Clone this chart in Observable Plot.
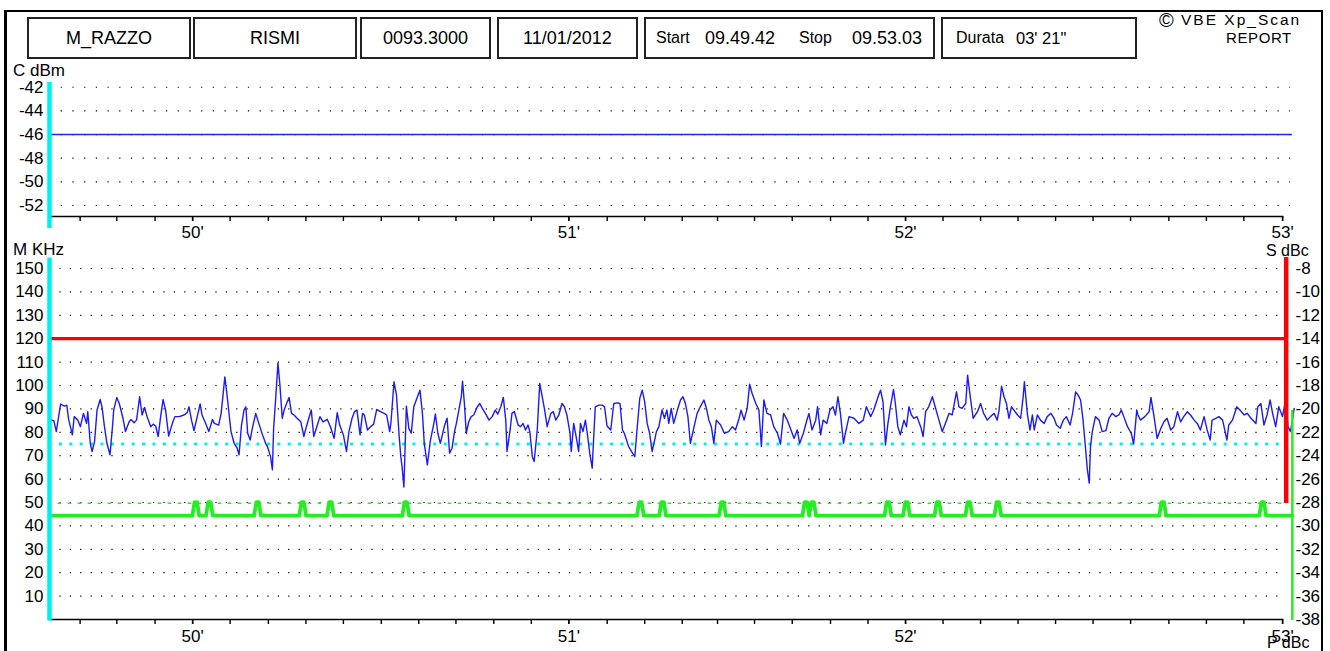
<!DOCTYPE html>
<html>
<head>
<meta charset="utf-8">
<script src="https://cdn.jsdelivr.net/npm/d3@7"></script>
<script src="https://cdn.jsdelivr.net/npm/@observablehq/plot@0.6"></script>
<style>
  html, body { margin: 0; padding: 0; background: #fff; }
  #page { position: relative; width: 1330px; height: 651px; overflow: hidden; background: #fff;
          font-family: "Liberation Sans", Arial, sans-serif; color: #000; }
  #frame { position: absolute; left: 4px; top: 10px; width: 1319px; height: 700px;
           border-top: 2px solid #000; border-left: 3px solid #000; border-right: 2px solid #000; box-sizing: border-box; }
  .box { position: absolute; top: 17px; height: 42px; border: 2px solid #222; box-sizing: border-box;
         font-size: 18px; line-height: 38px; text-align: center; white-space: nowrap; }
  .lbl { position: absolute; font-size: 17px; line-height: 16px; white-space: nowrap; }
  .hdr { position: absolute; font-size: 18px; line-height: 18px; white-space: nowrap; }
  .panel { position: absolute; left: 0; }
</style>
</head>
<body>
<div id="page">
  <div id="frame"></div>
</div>
<script>
// ---------- header data ----------
const headerFields = ["M_RAZZO", "RISMI", "0093.3000", "11/01/2012"];
const startStopTexts = ["Start", "09.49.42", "Stop", "09.53.03"];
const durationTexts = ["Durata", "03' 21\""];
const brandTexts = ["\u00A9", "VBE Xp_Scan", "REPORT"];

// ---------- axis data ----------
const durationSec = 201;                 // 03' 21"
const dbmTicks = [-42, -44, -46, -48, -50, -52];
const khzTicks = [150, 140, 130, 120, 110, 100, 90, 80, 70, 60, 50, 40, 30, 20, 10];
const dbcTickPos = [150, 140, 130, 120, 110, 100, 90, 80, 70, 60, 50, 40, 30, 20, 10, 0];
const dbcLabels = ["-8", "-10", "-12", "-14", "-16", "-18", "-20", "-22", "-24", "-26", "-28", "-30", "-32", "-34", "-36", "-38"];
const minorTicks = [4.96, 10.90, 17.10, 23.18, 29.25, 35.45, 41.53, 47.60, 53.74, 59.81, 65.83, 71.96, 78.04,
  84.11, 90.33, 96.40, 102.48, 108.20, 114.19, 120.30, 126.50, 132.57, 138.65, 144.72, 150.80, 156.87,
  162.95, 169.02, 175.10, 181.30, 187.38, 193.45, 199.72];
const minuteTicks = [23.18, 84.11, 138.65, 199.72];
const minuteLabels = ["50'", "51'", "52'", "53'"];

// ---------- series ----------
const carrierDbm = -46;
const redLimitKHz = 120;
const cyanLimitKHz = 75;
const greenLimitKHz = 49.7;
const greenBaseKHz = 44.4;
const greenPeakKHz = 50.2;
const alarmTimes = [23.7, 25.9, 33.7, 41.0, 45.5, 57.7, 95.7, 99.3, 109.0, 122.5, 123.6, 135.8, 138.8, 143.9, 148.9, 153.6, 180.3, 196.5];
const redBar = {t: 200.3, from: 49.6, to: 154.7};
const greenBar = {t: 201.3, from: -0.4, to: 89.3};

// deviation trace [seconds from start, KHz]
const deviation = [
[0.0,85.5],[0.7,85.0],[1.1,80.3],[1.8,92.1],[2.4,91.2],[2.8,91.6],[3.1,85.5],[3.7,78.9],[4.0,86.7],[4.6,85.2],
[5.0,82.4],[5.5,88.1],[6.0,83.8],[6.2,88.8],[6.6,75.3],[6.9,71.8],[7.3,76.0],[7.7,89.5],[8.2,94.0],[8.5,90.9],
[8.9,82.4],[9.3,75.3],[9.8,70.4],[10.2,82.4],[10.4,89.5],[10.9,94.9],[11.3,92.3],[11.9,86.0],[12.3,80.3],[12.9,84.5],
[13.2,85.5],[13.7,84.1],[14.1,85.2],[14.6,95.2],[15.0,87.4],[15.4,90.6],[15.8,86.7],[16.4,82.4],[16.8,83.5],[17.2,82.7],
[17.6,78.2],[18.0,86.7],[18.4,94.0],[18.8,89.5],[19.3,78.4],[19.9,83.8],[20.3,86.7],[21.0,86.7],[21.8,87.4],[22.3,88.4],
[22.6,90.9],[23.0,85.2],[23.4,80.7],[23.8,85.2],[24.4,92.1],[24.7,87.4],[25.3,83.8],[25.8,80.3],[26.4,85.5],[26.7,83.8],
[27.4,83.1],[27.8,88.1],[28.4,103.7],[28.7,97.3],[29.1,87.4],[29.4,80.3],[29.9,75.3],[30.4,73.2],[30.7,70.4],[31.1,83.1],
[31.5,89.5],[31.8,90.9],[32.1,79.6],[32.5,76.7],[32.8,81.0],[33.4,88.1],[33.9,83.8],[34.5,78.9],[35.0,75.3],[35.3,73.9],
[35.8,69.6],[36.1,64.0],[36.3,81.7],[36.6,93.0],[37.0,109.6],[37.3,100.9],[37.7,86.0],[38.0,89.5],[38.4,92.3],[38.8,94.9],
[39.2,88.1],[39.6,87.4],[40.1,86.0],[40.7,84.5],[41.2,78.2],[41.6,82.4],[42.0,86.0],[42.4,89.5],[42.8,78.2],[43.3,82.4],
[43.8,86.7],[44.3,84.5],[45.0,85.5],[45.5,82.4],[46.1,77.4],[46.6,88.4],[47.0,83.1],[47.6,78.9],[48.1,71.8],[48.5,80.3],
[49.0,86.0],[49.4,88.8],[49.8,89.5],[50.3,78.9],[50.7,88.1],[51.0,87.4],[51.5,81.0],[52.0,82.4],[52.5,83.5],[53.0,89.8],
[53.6,88.8],[54.2,88.1],[54.6,87.4],[55.1,80.3],[55.3,84.1],[55.8,101.6],[56.2,95.9],[56.6,79.6],[56.9,69.6],[57.1,65.4],
[57.4,56.6],[57.8,91.2],[58.2,81.7],[58.6,79.6],[59.0,90.9],[59.6,95.2],[60.0,98.0],[60.4,88.1],[60.7,75.3],[61.2,66.1],
[61.7,76.7],[62.2,83.1],[62.5,87.8],[62.9,79.6],
[63.3,75.3],[64.0,83.1],[64.4,86.0],[64.8,71.1],[65.2,73.2],[65.6,80.3],[65.9,83.8],[66.3,89.5],[66.7,95.2],[66.9,101.8],
[67.2,92.3],[67.5,79.6],[67.9,84.5],[68.3,86.7],[68.7,87.4],[69.3,90.9],[69.7,92.3],[70.1,90.2],[70.6,88.1],[71.2,85.2],
[71.7,86.7],[72.2,89.5],[72.6,87.8],[73.1,90.9],[73.5,94.9],[73.9,85.2],[74.1,71.8],[74.6,81.0],[74.9,88.1],[75.3,88.8],
[75.9,83.1],[76.3,82.4],[76.7,83.8],[77.1,81.0],[77.5,83.1],[77.8,80.3],[78.2,69.6],[78.5,67.5],[79.0,81.0],[79.4,100.9],
[79.8,95.2],[80.2,89.5],[80.6,82.4],[81.2,88.1],[81.6,88.8],[82.0,85.2],[82.5,87.4],[83.0,92.3],[83.4,90.9],[83.8,87.4],
[84.3,79.6],[84.5,71.8],[84.9,83.8],[85.4,76.7],[85.7,71.8],[86.0,83.8],[86.4,80.3],[86.8,85.2],[87.1,79.6],[87.5,71.1],
[87.9,64.7],[88.2,81.0],[88.4,90.9],[89.0,91.6],[89.5,91.6],[89.9,90.9],[90.3,82.7],[90.9,81.0],[91.4,92.3],[92.0,92.6],
[92.4,92.3],[92.8,81.0],[93.1,79.6],[93.8,73.9],[94.5,70.8],[94.8,69.6],[95.2,82.4],[95.6,94.5],[96.0,98.0],[96.4,93.0],
[96.8,83.8],[97.2,79.6],[97.6,71.8],[97.9,75.3],[98.3,80.3],[98.7,82.4],[99.2,89.5],[99.6,86.0],[100.0,89.5],[100.3,83.8],
[100.7,90.2],[101.1,83.8],[101.7,89.5],[102.2,93.8],[102.6,95.2],[103.0,92.3],[103.4,86.7],[103.8,75.3],[104.4,82.4],[104.9,88.1],
[105.4,90.9],[106.0,93.8],[106.4,90.2],[106.8,85.2],[107.2,82.4],[107.6,75.3],[108.0,85.2],[108.7,83.1],[109.3,79.6],[110.0,80.3],
[110.6,82.4],[111.1,81.0],[111.7,86.0],[112.0,89.5],[112.5,85.2],[113.0,90.2],[113.4,100.6],[113.8,96.6],[114.4,92.3],[114.9,89.5],
[115.3,73.9],[115.7,93.8],[116.2,88.1],[116.8,87.4],[117.3,82.4],[117.9,79.6],[118.4,75.0],[118.9,88.1],[119.5,85.2],[119.9,82.4],
[120.6,77.4],[121.1,81.0],[121.5,75.3],[122.1,79.6],[122.6,84.5],[123.0,88.1],[123.5,81.0],[124.1,85.2],[124.4,90.9],[124.9,78.9],
[125.3,85.2],[125.9,83.8],[126.4,89.5],[126.9,90.9],[127.3,87.4],[127.7,95.2],[128.1,88.1],[128.6,75.3],[128.9,79.6],[129.5,86.7],
[130.3,86.0],[131.1,83.8],[131.8,85.2],[132.3,90.9],[133.0,86.7],[133.5,89.5],[134.3,95.9],
[134.6,98.0],[135.0,93.0],[135.4,74.6],[135.8,83.8],[136.2,90.9],[136.7,98.3],[137.0,92.3],[137.4,82.4],[137.8,78.9],[138.4,85.2],
[138.8,82.4],[139.2,90.9],[139.6,87.4],[140.0,86.0],[140.5,86.7],[141.1,82.4],[141.5,78.2],[141.9,88.8],[142.4,90.9],[143.0,95.2],
[143.3,92.3],[143.9,86.7],[144.6,80.3],[145.1,83.8],[145.7,88.1],[146.2,87.4],[146.6,93.0],[146.9,97.3],[147.3,90.9],[147.8,90.2],
[148.4,92.3],[148.7,104.4],[149.2,93.8],[149.6,86.0],[150.3,88.8],[150.8,92.3],[151.3,88.1],[151.9,85.2],[152.4,86.7],[153.0,88.1],
[153.5,85.2],[153.8,89.5],[154.2,99.7],[154.6,95.2],[155.0,92.3],[155.4,86.0],[155.8,90.9],[156.2,89.5],[156.8,87.4],[157.3,86.0],
[157.7,95.2],[157.9,101.6],[158.4,87.4],[158.8,81.0],[159.2,87.4],[159.5,81.0],[160.0,87.4],[160.5,85.2],[161.1,83.8],[161.6,86.7],
[162.2,88.1],[162.7,86.0],[163.1,83.1],[163.7,81.7],[164.2,85.2],[164.7,86.7],[165.3,83.1],[165.7,88.1],[166.2,97.3],[166.6,95.9],
[167.0,93.8],[167.4,85.2],[167.8,73.2],[168.1,64.0],[168.4,58.3],[168.6,73.9],[168.9,80.3],[169.4,86.7],[170.0,85.2],[170.5,80.3],
[171.1,80.7],[171.6,86.0],[172.1,88.1],[172.7,86.7],[173.2,87.4],[173.6,89.5],[174.0,86.7],[174.6,82.4],[175.2,79.6],[175.6,75.0],
[176.1,89.5],[176.3,87.4],[176.7,85.2],[177.4,86.7],[178.1,88.8],[178.4,94.9],[178.9,86.7],[179.4,77.4],[180.0,81.7],[180.5,84.5],
[181.0,86.0],[181.6,81.0],[182.1,82.4],[182.7,88.8],[183.2,84.5],[183.7,86.7],[184.3,88.8],[184.8,87.4],[185.4,85.2],[185.9,83.8],
[186.4,81.0],[187.0,86.7],[187.5,81.0],[188.0,76.7],[188.3,85.2],[188.9,86.0],[189.4,86.7],[190.0,85.2],[190.7,76.7],[191.0,83.1],
[191.6,85.2],[192.3,90.9],[192.8,89.5],[193.5,87.4],[194.0,88.1],[194.6,86.0],[195.4,83.8],[195.7,90.9],[196.2,92.3],[196.7,83.1],
[197.2,87.4],[197.7,93.8],[198.1,88.1],[198.6,82.4],[199.1,90.9],[199.7,86.7],[200.2,93.8],[200.6,82.4],[201.0,80.3],[201.6,90.2]
].map(([t, v]) => ({t, v}));

// green alarm line: base level with a small pulse at each alarm time
const greenLine = [{t: 0, v: greenBaseKHz}];
for (const c of alarmTimes) {
  greenLine.push({t: c - 0.55, v: greenBaseKHz}, {t: c - 0.2, v: greenPeakKHz},
                 {t: c + 0.2, v: greenPeakKHz}, {t: c + 0.55, v: greenBaseKHz});
}
greenLine.push({t: greenBar.t, v: greenBaseKHz});

// ---------- colours ----------
const CYAN = "#00f0f0", RED = "#ff0000", GREEN = "#22ee22", BLUE = "#1428ff", TRACE = "#1a1aff";

// ---------- header (HTML) ----------
const page = document.getElementById("page");
function add(cls, text, css) {
  const d = document.createElement("div");
  d.className = cls; d.textContent = text;
  Object.assign(d.style, css);
  page.appendChild(d);
  return d;
}
const boxEdges = [[27, 191], [193, 357], [360, 491], [497, 638], [644, 935], [941, 1137]];
headerFields.forEach((t, i) => add("box", t, {left: boxEdges[i][0] + "px", width: (boxEdges[i][1] - boxEdges[i][0]) + "px"}));
add("box", "", {left: boxEdges[4][0] + "px", width: (boxEdges[4][1] - boxEdges[4][0]) + "px"});
add("box", "", {left: boxEdges[5][0] + "px", width: (boxEdges[5][1] - boxEdges[5][0]) + "px"});
const startStopX = [656, 705, 799, 852];
const startStopSize = [16, 18, 16, 18];
startStopTexts.forEach((t, i) => add("hdr", t, {left: startStopX[i] + "px", top: "29px", fontSize: startStopSize[i] + "px"}));
add("hdr", durationTexts[0], {left: "956px", top: "29px", fontSize: "16px"});
add("hdr", durationTexts[1], {left: "1016px", top: "29px", fontSize: "16.5px"});
add("hdr", brandTexts[0], {left: "1159px", top: "10px", fontSize: "20px", lineHeight: "20px"});
add("hdr", brandTexts[1], {left: "1181px", top: "12px", fontSize: "15.5px", lineHeight: "15px", letterSpacing: "2px"});
add("hdr", brandTexts[2], {left: "1226px", top: "31px", fontSize: "15px", lineHeight: "14px", letterSpacing: "0.6px"});

const font = {background: "transparent", fontFamily: "'Liberation Sans', Arial, sans-serif", fontSize: "17px", color: "#000", overflow: "visible"};

// ---------- top panel: carrier level (dBm) ----------
const topPlot = Plot.plot({
  width: 1330, height: 250,
  marginLeft: 49, marginRight: 40, marginTop: 82, marginBottom: 34,
  x: {domain: [0, durationSec], label: null},
  y: {domain: [-52.93, -41.6], label: null},
  style: font,
  marks: [
    Plot.ruleY(dbmTicks, {stroke: "#000", strokeWidth: 1.2, strokeDasharray: "1.2,10.5"}),
    Plot.ruleY([carrierDbm], {x1: 0, x2: greenBar.t, stroke: BLUE, strokeWidth: 1.6}),
    Plot.ruleY([-52.93], {x1: 0, x2: 199.9, stroke: "#000", strokeWidth: 1.6}),
    Plot.axisX({ticks: minorTicks, tickSize: 5, tickFormat: () => "", strokeWidth: 1.4}),
    Plot.axisX({ticks: minuteTicks, tickSize: 5, tickPadding: 4, strokeWidth: 1.4,
                tickFormat: d => minuteLabels[minuteTicks.indexOf(d)]}),
    Plot.axisY({ticks: dbmTicks, anchor: "left", tickSize: 0, tickPadding: 6, tickFormat: d => String(d)}),
    Plot.ruleX([0], {y1: -41.6, y2: -53.95, stroke: CYAN, strokeWidth: 4.5})
  ]
});
topPlot.classList.add("panel");
topPlot.style.top = "0px";
page.appendChild(topPlot);

// ---------- bottom panel: deviation (KHz) ----------
const botPlot = Plot.plot({
  width: 1330, height: 401,
  marginLeft: 49, marginRight: 40, marginTop: 18, marginBottom: 32,
  x: {domain: [0, durationSec], label: null},
  y: {domain: [0, 150], label: null},
  style: font,
  marks: [
    Plot.ruleY(khzTicks, {x1: 0, x2: 199.4, stroke: "#000", strokeWidth: 1.2, strokeDasharray: "1.2,9.2"}),
    Plot.ruleY([redLimitKHz], {x1: 0, x2: redBar.t, stroke: RED, strokeWidth: 3.2}),
    Plot.ruleY([cyanLimitKHz], {x1: 1.6, x2: 199.6, stroke: CYAN, strokeWidth: 3.2, strokeDasharray: "3,7.4"}),
    Plot.ruleY([greenLimitKHz], {x1: 1.4, x2: 199.6, stroke: GREEN, strokeWidth: 1.4, strokeDasharray: "3.5,6.5"}),
    Plot.line(greenLine, {x: "t", y: "v", stroke: GREEN, strokeWidth: 3.8, strokeLinejoin: "round"}),
    Plot.line(deviation, {x: "t", y: "v", stroke: TRACE, strokeWidth: 1.4}),
    Plot.ruleY([0], {x1: 0, x2: 199.9, stroke: "#000", strokeWidth: 1.6}),
    Plot.axisX({ticks: minorTicks, tickSize: 5, tickFormat: () => "", strokeWidth: 1.4}),
    Plot.axisX({ticks: minuteTicks, tickSize: 5, tickPadding: 5, strokeWidth: 1.4,
                tickFormat: d => minuteLabels[minuteTicks.indexOf(d)]}),
    Plot.axisY({ticks: khzTicks, anchor: "left", tickSize: 0, tickPadding: 6, tickFormat: d => String(d)}),
    Plot.axisY({ticks: dbcTickPos, anchor: "right", tickSize: 0, tickPadding: 5,
                tickFormat: d => dbcLabels[dbcTickPos.indexOf(d)]}),
    Plot.ruleX([redBar.t], {y1: redBar.from, y2: redBar.to, stroke: RED, strokeWidth: 4.5}),
    Plot.ruleX([greenBar.t], {y1: greenBar.from, y2: greenBar.to, stroke: GREEN, strokeWidth: 2.5}),
    Plot.ruleX([0], {y1: -0.6, y2: 154.5, stroke: CYAN, strokeWidth: 4.5})
  ]
});
botPlot.classList.add("panel");
botPlot.style.top = "250px";
page.appendChild(botPlot);

// ---------- axis titles ----------
add("lbl", "C dBm", {left: "13px", top: "63px"});
add("lbl", "M KHz", {left: "13px", top: "242px"});
add("lbl", "S dBc", {left: "1266px", top: "244px", fontSize: "16px", lineHeight: "14px"});
add("lbl", "P dBc", {left: "1267px", top: "636px", fontSize: "16px", lineHeight: "14px"});
</script>
</body>
</html>
